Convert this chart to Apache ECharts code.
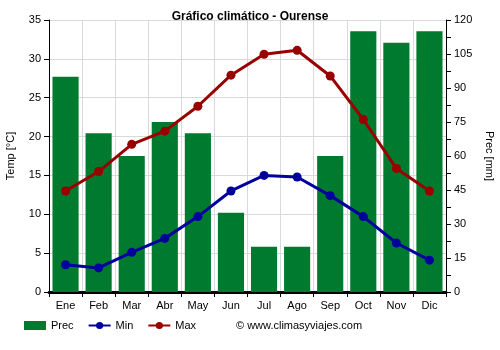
<!DOCTYPE html>
<html>
<head>
<meta charset="utf-8">
<script src="https://cdn.jsdelivr.net/npm/echarts@6/dist/echarts.min.js"></script>
<style>
  html, body { margin: 0; padding: 0; background: #fff; }
  #chart { width: 500px; height: 350px; }
</style>
</head>
<body>
<div id="chart"></div>
<script>
// Monthly climate data for Ourense
const months = ['Ene', 'Feb', 'Mar', 'Abr', 'May', 'Jun', 'Jul', 'Ago', 'Sep', 'Oct', 'Nov', 'Dic'];
const precMm = [95, 70, 60, 75, 70, 35, 20, 20, 60, 115, 110, 115];
const tempMin = [3.5, 3.1, 5.1, 6.9, 9.7, 13.0, 15.0, 14.8, 12.4, 9.7, 6.3, 4.1];
const tempMax = [13.0, 15.5, 19.0, 20.7, 23.9, 27.9, 30.6, 31.1, 27.8, 22.2, 15.9, 13.0];

const FONT = '"Liberation Sans", Arial, sans-serif';
const GREEN = '#007a2f';
const BLUE = '#00009c';
const RED = '#990000';

const chart = echarts.init(document.getElementById('chart'), null, { renderer: 'canvas' });

chart.setOption({
  animation: false,
  textStyle: { fontFamily: FONT },
  title: {
    text: 'Gráfico climático - Ourense',
    left: 'center',
    top: 11,
    padding: 0,
    textStyle: { fontFamily: FONT, fontSize: 12, fontWeight: 'bold', color: '#000' }
  },
  grid: { left: 49, right: 54, top: 20, bottom: 58, containLabel: false, outerBoundsMode: 'none' },
  legend: {
    left: 24,
    top: 320,
    padding: 0,
    itemWidth: 22,
    itemHeight: 9,
    itemGap: 14,
    textStyle: { fontFamily: FONT, fontSize: 11, color: '#000' },
    data: [
      { name: 'Prec', icon: 'rect' },
      { name: 'Min' },
      { name: 'Max' }
    ]
  },
  graphic: [{
    type: 'text',
    left: 236,
    top: 320,
    style: { text: '© www.climasyviajes.com', font: '11px ' + FONT, fill: '#000' }
  }],
  xAxis: {
    type: 'category',
    data: months,
    boundaryGap: true,
    axisLine: { show: true, lineStyle: { color: '#000', width: 3 } },
    axisTick: { show: true, alignWithLabel: false, length: 5, lineStyle: { color: '#000', width: 1 } },
    axisLabel: { color: '#000', fontSize: 11, margin: 8, fontFamily: FONT },
    splitLine: { show: true, lineStyle: { color: '#d9d9d9', width: 1 } }
  },
  yAxis: [
    {
      type: 'value',
      min: 0,
      max: 35,
      interval: 5,
      name: 'Temp [°C]',
      nameLocation: 'middle',
      nameGap: 33,
      nameTextStyle: { color: '#000', fontSize: 11, fontFamily: FONT },
      axisLine: { show: true, lineStyle: { color: '#000', width: 1 } },
      axisTick: { show: true, length: 5, lineStyle: { color: '#000' } },
      axisLabel: { color: '#000', fontSize: 11, margin: 8, fontFamily: FONT },
      splitLine: { show: true, lineStyle: { color: '#d9d9d9', width: 1 } }
    },
    {
      type: 'value',
      min: 0,
      max: 120,
      interval: 15,
      name: 'Prec [mm]',
      nameLocation: 'middle',
      nameGap: 35,
      nameRotate: -90,
      nameTextStyle: { color: '#000', fontSize: 11, fontFamily: FONT },
      axisLine: { show: true, lineStyle: { color: '#000', width: 1 } },
      axisTick: { show: true, length: 5, lineStyle: { color: '#000' } },
      minorTick: { show: true, splitNumber: 2, length: 5, lineStyle: { color: '#000' } },
      axisLabel: { color: '#000', fontSize: 11, margin: 8, fontFamily: FONT },
      splitLine: { show: false }
    }
  ],
  series: [
    {
      name: 'Prec',
      type: 'bar',
      yAxisIndex: 1,
      data: precMm,
      barWidth: '79%',
      itemStyle: { color: GREEN },
      z: 2
    },
    {
      name: 'Min',
      type: 'line',
      yAxisIndex: 0,
      data: tempMin,
      symbol: 'circle',
      symbolSize: 9,
      lineStyle: { color: BLUE, width: 3 },
      itemStyle: { color: BLUE },
      z: 4
    },
    {
      name: 'Max',
      type: 'line',
      yAxisIndex: 0,
      data: tempMax,
      symbol: 'circle',
      symbolSize: 9,
      lineStyle: { color: RED, width: 3 },
      itemStyle: { color: RED },
      z: 4
    }
  ]
});
</script>
</body>
</html>
